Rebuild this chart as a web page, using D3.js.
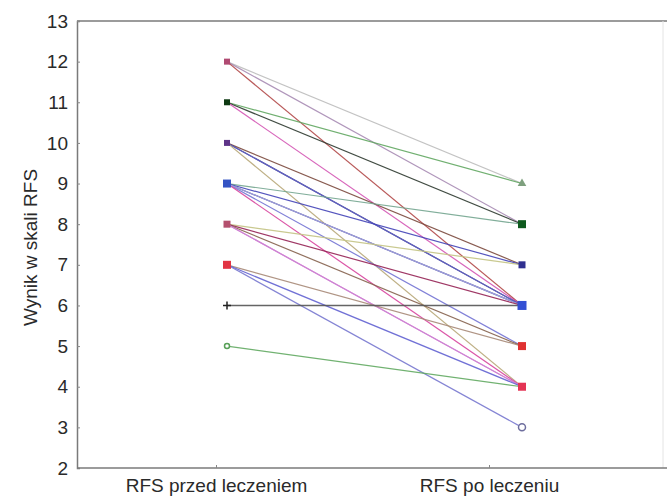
<!DOCTYPE html>
<html>
<head>
<meta charset="utf-8">
<script src="https://cdn.jsdelivr.net/npm/d3@7"></script>
<style>
  body { margin: 0; background: #fff; }
  text { font-family: "Liberation Sans", Arial, sans-serif; fill: #2a2a2a; }
</style>
</head>
<body>
<div id="chart"></div>
<script>
// Data: each line joins a score before treatment with a score after treatment
var categories = ["RFS przed leczeniem", "RFS po leczeniu"];
var yTicks = [2, 3, 4, 5, 6, 7, 8, 9, 10, 11, 12, 13];
var before = [12, 12, 12, 11, 11, 11, 10, 10, 10, 10, 9, 9, 9, 9, 9, 9, 8, 8, 8, 8, 8, 7, 7, 7, 6, 5];
var after  = [ 9,  8,  6,  9,  8,  6,  7,  6,  6,  4, 8, 7, 6, 5, 4, 6, 7, 6, 5, 4, 4, 5, 4, 3, 6, 4];

// styles
var lineColors = ["#bdbdbd", "#a88cb4", "#b24848", "#62a862", "#2e3a30", "#d455b4",
  "#7c4a3e", "#2e2e78", "#6464c8", "#b8a878", "#74a690", "#4444b8", "#34348a", "#7474d4",
  "#d8449e", "#a8a8e4", "#c4c484", "#962456", "#86624e", "#e468c4", "#c888d8",
  "#a88a78", "#6262d2", "#7878d0", "#555555", "#62aa62"];

var leftMarks = {12: ["square", "#b04a72", 6], 11: ["square", "#0e3a12", 6], 10: ["square", "#5e3488", 6],
  9: ["square", "#3454c4", 8], 8: ["square", "#b4506e", 7], 7: ["square", "#e23444", 8],
  6: ["plus", "#222", 8], 5: ["circle", "#58a058", 6]};
var rightMarks = {9: ["triangle", "#7ea07e", 8], 8: ["square", "#0e5a1e", 8], 7: ["square", "#303090", 7],
  6: ["square", "#3450d4", 9], 5: ["square", "#e03232", 8], 4: ["square", "#e43454", 8],
  3: ["circle", "#6e6e9e", 8]};

var svgWidth = 667, svgHeight = 497;
var margin = {top: 21, left: 77, right: 0, bottom: 29};
var plotRight = 663;

var svg = d3.select("#chart").append("svg")
  .attr("width", svgWidth)
  .attr("height", svgHeight);

var y = d3.scaleLinear().domain([2, 13]).range([468, margin.top]);
// category tick positions and mark positions (marks sit slightly right of the labels in the original)
var xAxisScale = d3.scalePoint().domain(categories).range([216, 489]);
var xMark = d3.scaleLinear().domain([0, 1]).range([227, 522]);

// frame
var frame = svg.append("g");
frame.append("line").attr("x1", margin.left).attr("x2", svgWidth)
  .attr("y1", y(13)).attr("y2", y(13)).attr("stroke", "#7a7a7a").attr("stroke-width", 1.5);
frame.append("line").attr("x1", plotRight).attr("x2", plotRight)
  .attr("y1", y(13)).attr("y2", y(2)).attr("stroke", "#e4e4e4").attr("stroke-width", 1);

// y axis
var yAxis = svg.append("g")
  .attr("transform", "translate(" + margin.left + ",0)")
  .call(d3.axisLeft(y).tickValues(yTicks).tickSize(-3).tickPadding(9));
yAxis.select(".domain").attr("stroke", "#7a7a7a").attr("stroke-width", 1.5);
yAxis.selectAll(".tick line").attr("stroke", "#888");
yAxis.selectAll(".tick text").style("font-size", "19px").attr("fill", "#2a2a2a")
  .attr("font-family", "Liberation Sans, Arial, sans-serif");

// x axis
var xAxis = svg.append("g")
  .attr("transform", "translate(0," + y(2) + ")")
  .call(d3.axisBottom(xAxisScale).tickSize(-3).tickPadding(11).tickSizeOuter(0));
xAxis.select(".domain").attr("d", "M" + margin.left + ",0H" + svgWidth)
  .attr("stroke", "#7a7a7a").attr("stroke-width", 1.5);
xAxis.selectAll(".tick line").attr("stroke", "#888");
xAxis.selectAll(".tick text").style("font-size", "19px").attr("fill", "#2a2a2a")
  .attr("font-family", "Liberation Sans, Arial, sans-serif");

// y title
svg.append("text")
  .attr("transform", "translate(30," + ((y(13) + y(2)) / 2 + 3) + ") rotate(-90)")
  .attr("text-anchor", "middle")
  .attr("dy", "0.35em")
  .style("font-size", "19px")
  .text("Wynik w skali RFS");

// lines
svg.append("g").selectAll("line")
  .data(before)
  .enter().append("line")
    .attr("x1", xMark(0))
    .attr("y1", function(d) { return y(d); })
    .attr("x2", xMark(1))
    .attr("y2", function(d, i) { return y(after[i]); })
    .attr("stroke", function(d, i) { return lineColors[i]; })
    .attr("stroke-width", function(d, i) { return before[i] === after[i] ? 1.6 : 1.2; })
    .attr("opacity", 0.9);

function drawMark(g, cx, cy, m) {
  var shape = m[0], col = m[1], s = m[2];
  if (shape === "square") {
    g.append("rect").attr("x", cx - s / 2).attr("y", cy - s / 2)
      .attr("width", s).attr("height", s).attr("fill", col);
  } else if (shape === "plus") {
    g.append("path").attr("d", "M" + (cx - s / 2) + "," + cy + "H" + (cx + s / 2) +
      "M" + cx + "," + (cy - s / 2) + "V" + (cy + s / 2))
      .attr("stroke", col).attr("stroke-width", 1.5);
  } else if (shape === "circle") {
    g.append("circle").attr("cx", cx).attr("cy", cy).attr("r", s / 2 - 0.5)
      .attr("fill", "#fff").attr("stroke", col).attr("stroke-width", 1.5);
  } else if (shape === "triangle") {
    g.append("path").attr("d", d3.symbol().type(d3.symbolTriangle).size(s * s * 0.5)())
      .attr("transform", "translate(" + cx + "," + cy + ")").attr("fill", col);
  }
}

var marks = svg.append("g");
Object.keys(leftMarks).forEach(function(k) { drawMark(marks, xMark(0), y(+k), leftMarks[k]); });
Object.keys(rightMarks).forEach(function(k) { drawMark(marks, xMark(1), y(+k), rightMarks[k]); });
</script>
</body>
</html>
